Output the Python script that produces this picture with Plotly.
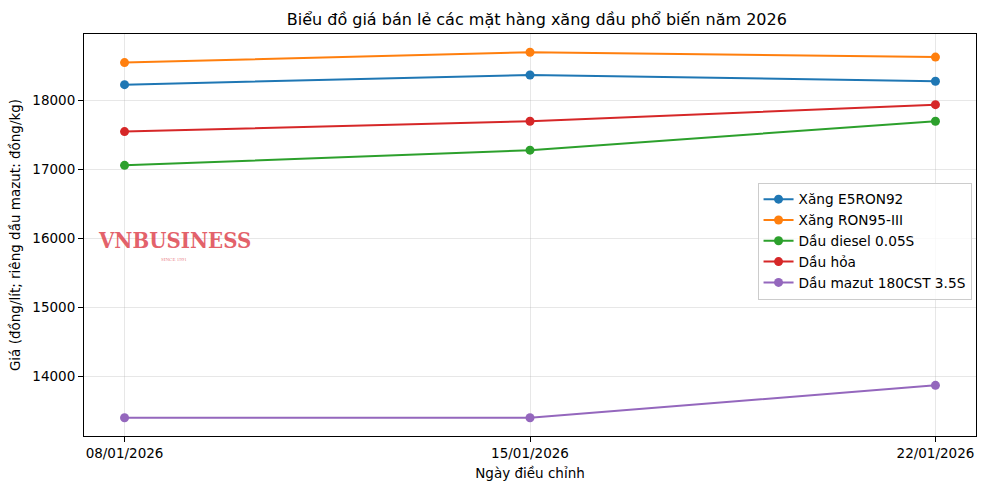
import plotly.graph_objects as go

dates = ["08/01/2026", "15/01/2026", "22/01/2026"]
series_names = ["Xăng E5RON92", "Xăng RON95-III", "Dầu diesel 0.05S", "Dầu hỏa", "Dầu mazut 180CST 3.5S"]
e5ron92 = [18230, 18370, 18280]
ron95 = [18550, 18700, 18630]
diesel = [17060, 17280, 17700]
dau_hoa = [17550, 17700, 17940]
mazut = [13400, 13400, 13870]
colors = ["#1f77b4", "#ff7f0e", "#2ca02c", "#d62728", "#9467bd"]
y_ticks = [14000, 15000, 16000, 17000, 18000]

values = [e5ron92, ron95, diesel, dau_hoa, mazut]
x_idx = list(range(len(dates)))

fig = go.Figure()
for name, vals, c in zip(series_names, values, colors):
    fig.add_trace(go.Scatter(
        x=x_idx, y=vals, name=name, mode="lines+markers",
        line=dict(color=c, width=2), marker=dict(color=c, size=9),
    ))

allv = [v for s in values for v in s]
lo, hi = min(allv), max(allv)
pad = (hi - lo) * 0.05

font = "DejaVu Sans, sans-serif"
fig.update_layout(
    width=985, height=490,
    paper_bgcolor="white", plot_bgcolor="white",
    margin=dict(l=84, r=9, t=34, b=54),
    font=dict(family=font, size=13.5, color="black"),
    title=dict(text="Biểu đồ giá bán lẻ các mặt hàng xăng dầu phổ biến năm 2026",
               x=0.545, xanchor="center", y=1 - 19/490, yanchor="middle",
               font=dict(size=16, family=font)),
    xaxis=dict(
        range=[-0.1, 2.1], tickmode="array", tickvals=x_idx, ticktext=dates,
        showgrid=True, gridcolor="rgba(176,176,176,0.3)", gridwidth=1,
        showline=True, linecolor="black", linewidth=1, mirror=True,
        ticks="outside", ticklen=5, tickcolor="black", zeroline=False,
        title=dict(text="Ngày điều chỉnh", font=dict(size=13.5), standoff=8),
    ),
    yaxis=dict(
        range=[lo - pad, hi + pad], tickmode="array", tickvals=y_ticks,
        ticktext=[str(t) for t in y_ticks],
        showgrid=True, gridcolor="rgba(176,176,176,0.3)", gridwidth=1,
        showline=True, linecolor="black", linewidth=1, mirror=True,
        ticks="outside", ticklen=5, tickcolor="black", zeroline=False,
        title=dict(text="Giá (đồng/lít; riêng dầu mazut: đồng/kg)", font=dict(size=13.5), standoff=8),
    ),
    legend=dict(
        x=0.995, xanchor="right", y=0.63, yanchor="top",
        bgcolor="rgba(255,255,255,0.8)", bordercolor="#cccccc", borderwidth=1,
        font=dict(size=13.7), tracegroupgap=0, itemwidth=30,
    ),
    annotations=[
        dict(text="<b>VNBUSINESS</b>", xref="paper", yref="paper",
             x=(174-84)/892, y=(436-240)/402, xanchor="center", yanchor="middle",
             showarrow=False, font=dict(family="DejaVu Serif Condensed, Liberation Serif, serif", size=22, color="rgba(222,70,80,0.85)")),
        dict(text="SINCE 1991", xref="paper", yref="paper",
             x=(174-84)/892, y=(436-259)/402, xanchor="center", yanchor="middle",
             showarrow=False, font=dict(family="Liberation Serif, serif", size=5, color="rgba(220,60,70,0.7)")),
    ],
)

fig.write_html("out.html", config={"displayModeBar": False},
               post_script="document.body.style.margin='0px';")
